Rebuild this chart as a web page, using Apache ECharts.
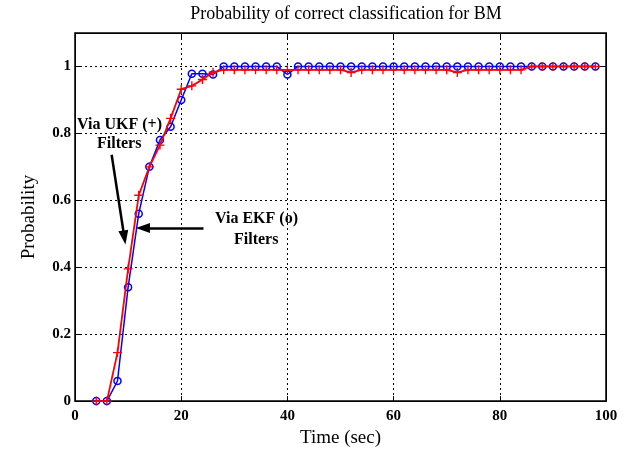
<!DOCTYPE html>
<html>
<head>
<meta charset="utf-8">
<script src="https://cdn.jsdelivr.net/npm/echarts@6/dist/echarts.min.js"></script>
<style>html,body{margin:0;padding:0;background:#fff;}#c{width:631px;height:453px;}</style>
</head>
<body>
<div id="c"></div>
<script>
var times = [4,6,8,10,12,14,16,18,20,22,24,26,28,30,32,34,36,38,40,42,44,46,48,50,52,54,56,58,60,62,64,66,68,70,72,74,76,78,80,82,84,86,88,90,92,94,96,98];
var ekf = [0,0,0.06,0.34,0.56,0.70,0.78,0.82,0.90,0.978,0.978,0.976,1,1,1,1,1,1,0.976,1,1,1,1,1,1,1,1,1,1,1,1,1,1,1,1,1,1,1,1,1,1,1,1,1,1,1,1,1];
var ukf = [0,0,0.145,0.395,0.615,0.70,0.765,0.845,0.932,0.942,0.961,0.983,0.99,0.99,0.99,0.99,0.99,0.99,0.99,0.99,0.99,0.99,0.99,0.99,0.982,0.99,0.99,0.99,0.99,0.99,0.99,0.99,0.99,0.99,0.982,0.99,0.99,0.99,0.99,0.99,0.99,1,1,1,1,1,1,1];
var xTicks = [0,20,40,60,80,100];
var yTicks = [0,0.2,0.4,0.6,0.8,1];

var F = '"Liberation Serif", "Times New Roman", serif';
function pairs(xs, ys){ return xs.map(function(x,i){return [x, ys[i]];}); }
var plus = 'path://M4.25,0H5.75V10H4.25Z M0,4.25H10V5.75H0Z';

var chart = echarts.init(document.getElementById('c'), null, {renderer:'canvas'});
var axisCommon = {
  axisLine:{show:true, onZero:false, lineStyle:{color:'#000', width:1}},
  axisTick:{show:true, inside:true, length:5, lineStyle:{color:'#000'}},
};
chart.setOption({
  animation:false,
  backgroundColor:'#fff',
  title:{text:'Probability of correct classification for BM', left:341, textAlign:'center', top:0,
    textStyle:{fontFamily:F, fontSize:18, fontWeight:'normal', color:'#000'}},
  grid:{left:75, right:25, top:33, bottom:50, show:true, borderColor:'#000', borderWidth:1.5},
  xAxis:[{
    type:'value', min:0, max:100, interval:20, position:'bottom',
    name:'Time (sec)', nameLocation:'middle', nameGap:24,
    nameTextStyle:{fontFamily:F, fontSize:19, color:'#000'},
    axisLine:axisCommon.axisLine, axisTick:axisCommon.axisTick,
    axisLabel:{fontFamily:F, fontSize:15, fontWeight:'bold', color:'#000', margin:8,
      formatter:function(v){return xTicks.indexOf(v)>=0 ? String(v) : '';}},
    splitLine:{show:true, lineStyle:{color:'#000', type:[2,3], width:1}}
  },{
    type:'value', min:0, max:100, interval:20, position:'top',
    axisLine:axisCommon.axisLine, axisTick:axisCommon.axisTick,
    axisLabel:{show:false}, splitLine:{show:false}
  }],
  yAxis:[{
    type:'value', min:0, max:1.1, interval:0.2, position:'left',
    name:'Probability', nameLocation:'middle', nameGap:36, nameRotate:90,
    nameTextStyle:{fontFamily:F, fontSize:19, color:'#000'},
    axisLine:axisCommon.axisLine, axisTick:axisCommon.axisTick,
    axisLabel:{fontFamily:F, fontSize:15, fontWeight:'bold', color:'#000', margin:4, showMaxLabel:false,
      formatter:function(v){var r=Math.round(v*10)/10; return yTicks.indexOf(r)>=0 ? String(r) : '';}},
    splitLine:{show:true, lineStyle:{color:'#000', type:[2,3], width:1}}
  },{
    type:'value', min:0, max:1.1, interval:0.2, position:'right',
    axisLine:axisCommon.axisLine, axisTick:axisCommon.axisTick,
    axisLabel:{show:false}, splitLine:{show:false}
  }],
  series:[{
    name:'EKF', type:'line', data:pairs(times, ekf),
    symbol:'circle', symbolSize:7, showSymbol:true,
    lineStyle:{color:'#0000ff', width:1.5},
    itemStyle:{color:'rgba(0,0,0,0)', borderColor:'#0000ff', borderWidth:1.5},
    z:2
  },{
    name:'UKF', type:'line', data:pairs(times, ukf),
    symbol:plus, symbolSize:9, showSymbol:true,
    lineStyle:{color:'#ff0000', width:1.8},
    itemStyle:{color:'#ff0000'},
    z:3,
    markLine:{
      silent:true, symbol:['none','triangle'], symbolSize:[10,14],
      label:{show:false},
      lineStyle:{color:'#000', width:2.5, type:'solid'},
      data:[
        [{coord:[6.9,0.736]},{coord:[9.3,0.489]}],
        [{coord:[24.2,0.517]},{coord:[12.8,0.517]}]
      ]
    }
  }],
  graphic:[
    {type:'text', left:77, top:117, style:{text:'Via UKF (+)', font:'bold 16px '+F, fill:'#000'}},
    {type:'text', left:97, top:136, style:{text:'Filters', font:'bold 16px '+F, fill:'#000'}},
    {type:'text', left:215, top:211, style:{text:'Via EKF (o)', font:'bold 16px '+F, fill:'#000'}},
    {type:'text', left:234, top:232, style:{text:'Filters', font:'bold 16px '+F, fill:'#000'}}
  ]
});
</script>
</body>
</html>
